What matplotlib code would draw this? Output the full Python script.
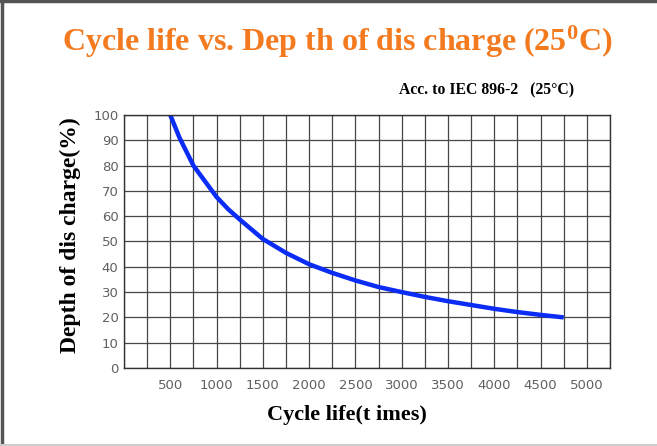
import matplotlib
matplotlib.use('Agg')
import matplotlib.pyplot as plt
from matplotlib.lines import Line2D

# Values
cycles = [500, 600, 750, 875, 1000, 1125, 1250, 1500, 1750, 2000, 2250, 2500,
          2750, 3000, 3250, 3500, 3750, 4000, 4250, 4500, 4750]
depth = [100, 91, 80, 73.8, 67.6, 62.8, 58.7, 51, 45.5, 41, 37.6, 34.6,
         32, 30, 28.1, 26.4, 24.9, 23.4, 22.1, 21, 20]

x_ticks = [500, 1000, 1500, 2000, 2500, 3000, 3500, 4000, 4500, 5000]
y_ticks = [0, 10, 20, 30, 40, 50, 60, 70, 80, 90, 100]

plt.rcParams['mathtext.fontset'] = 'custom'
plt.rcParams['mathtext.rm'] = 'Liberation Serif:bold'
plt.rcParams['mathtext.it'] = 'Liberation Serif:bold'
plt.rcParams['mathtext.bf'] = 'Liberation Serif:bold'

fig = plt.figure(figsize=(6.57, 4.46), dpi=100)
ax = fig.add_axes([0.1887, 0.1749, 0.7397, 0.5673])

# Grid every 250 cycles and 10 %
ax.set_xlim(0, 5250)
ax.set_ylim(0, 100)
ax.set_xticks(x_ticks)
ax.set_xticks(range(0, 5251, 250), minor=True)
ax.set_yticks(y_ticks)
ax.grid(True, which='both', color='#474747', linewidth=0.9)
ax.tick_params(which='both', length=0, labelsize=9.5, labelcolor='#606060')
ax.tick_params(axis='x', pad=8)
ax.tick_params(axis='y', pad=4)
for s in ax.spines.values():
    s.set_color('#333333')
    s.set_linewidth(1.0)
ax.set_axisbelow(True)

ax.plot(cycles, depth, color='#0a2cf5', linewidth=3.2, solid_capstyle='butt')

serif = 'Liberation Serif'
fig.text(0.513, 0.906, 'Cycle life vs. Dep th of dis charge (25$^{0}$C)',
         ha='center', va='center', fontsize=23, fontweight='bold',
         color='#f47a20', family=serif)
fig.text(0.74, 0.798, 'Acc. to IEC 896-2   (25\u00b0C)', ha='center', va='center',
         fontsize=11.3, fontweight='bold', color='black', family=serif)
fig.text(0.107, 0.473, 'Depth of dis charge(%)', ha='center', va='center',
         rotation=90, fontsize=17, fontweight='bold', color='black', family=serif)
fig.text(0.528, 0.07, 'Cycle life(t imes)', ha='center', va='center',
         fontsize=16, fontweight='bold', color='black', family=serif)

# Outer frame of the picture
fig.add_artist(Line2D([0.003, 0.003], [0, 1], transform=fig.transFigure,
                      color='#555555', linewidth=2.5))
fig.add_artist(Line2D([0, 1], [0.997, 0.997], transform=fig.transFigure,
                      color='#555555', linewidth=2.5))
fig.add_artist(Line2D([0, 1], [0.003, 0.003], transform=fig.transFigure,
                      color='#cccccc', linewidth=1.5))

fig.savefig('out.png', dpi=100)
